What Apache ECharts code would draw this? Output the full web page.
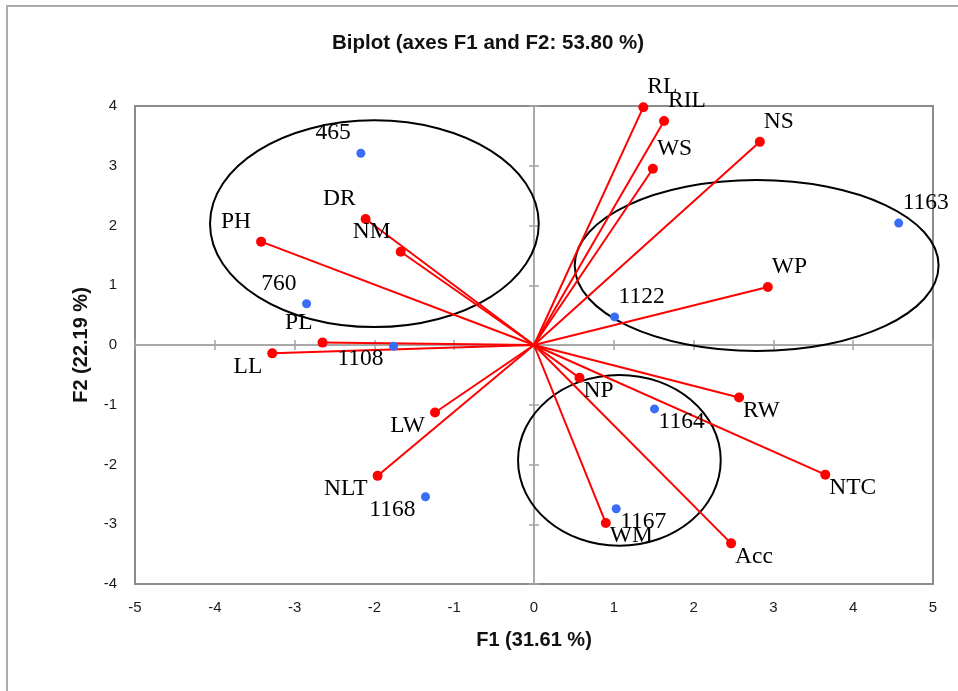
<!DOCTYPE html>
<html>
<head>
<meta charset="utf-8">
<script src="https://cdn.jsdelivr.net/npm/echarts@6/dist/echarts.min.js"></script>
<style>
  html, body { margin: 0; padding: 0; background: #fff; }
  #chart { width: 958px; height: 691px; }
</style>
</head>
<body>
<div id="chart"></div>
<script>
// Variables (arrows from the origin): F1 / F2 coordinates
const varNames = ['RL', 'RIL', 'WS', 'NS', 'WP', 'PH', 'DR', 'NM', 'PL', 'LL', 'LW', 'NLT', 'NP', 'RW', 'NTC', 'WM', 'Acc'];
const varF1 = [1.37, 1.63, 1.49, 2.83, 2.93, -3.42, -2.11, -1.67, -2.65, -3.28, -1.24, -1.96, 0.57, 2.57, 3.65, 0.90, 2.47];
const varF2 = [3.98, 3.75, 2.95, 3.40, 0.97, 1.73, 2.11, 1.56, 0.04, -0.14, -1.13, -2.19, -0.55, -0.88, -2.17, -2.98, -3.32];

// Observations (genotypes)
const obsNames = ['465', '760', '1108', '1168', '1122', '1163', '1164', '1167'];
const obsF1 = [-2.17, -2.85, -1.76, -1.36, 1.01, 4.57, 1.51, 1.03];
const obsF2 = [3.21, 0.69, -0.02, -2.54, 0.47, 2.04, -1.07, -2.74];

// Group ellipses: centre (F1, F2) and semi-axes in axis units
const ellCx = [-2.00, 2.79, 1.07];
const ellCy = [2.03, 1.33, -1.93];
const ellRx = [2.06, 2.28, 1.27];
const ellRy = [1.73, 1.43, 1.43];

// Axis ranges
const xRange = [-5, 5];
const yRange = [-4, 4];

const axisGray = '#a3a3a3';
const boxGray = '#8c8c8c';
const serif = '"Liberation Serif", "Times New Roman", serif';
const sans = '"Liberation Sans", Arial, sans-serif';

// Labels sit in the quadrant the point lies in (above/below, left/right)
function quadLabel(x, y, size) {
  const right = x >= 0;
  const up = y >= 0;
  return {
    show: true,
    position: [size / 2 + (right ? 4 : -10), size / 2 + (up ? -20 : 13)],
    align: right ? 'left' : 'right',
    verticalAlign: 'middle',
    fontFamily: serif,
    fontSize: 23.5,
    color: '#000',
    opacity: 1
  };
}

const varSize = 10;
const obsSize = 9;

const varPoints = varNames.map((n, i) => ({
  name: n,
  value: [varF1[i], varF2[i]],
  label: Object.assign(quadLabel(varF1[i], varF2[i], varSize), { formatter: n })
}));
const obsPoints = obsNames.map((n, i) => ({
  name: n,
  value: [obsF1[i], obsF2[i]],
  label: Object.assign(quadLabel(obsF1[i], obsF2[i], obsSize), { formatter: n })
}));
const arrows = varNames.map((n, i) => ({ coords: [[0, 0], [varF1[i], varF2[i]]] }));
const ellipses = ellCx.map((c, i) => [c, ellCy[i], ellRx[i], ellRy[i]]);

function valueAxis(range, extra) {
  return Object.assign({
    type: 'value',
    min: range[0],
    max: range[1],
    interval: 1,
    splitLine: { show: false }
  }, extra);
}

// Zero lines carry "cross" ticks: one axis with inner ticks, one with outer ticks
function zeroAxis(range, inside) {
  return valueAxis(range, {
    axisLine: { show: true, onZero: true, onZeroAxisIndex: 0, lineStyle: { color: axisGray, width: 1.5 } },
    axisTick: { show: true, inside: inside, length: 5, lineStyle: { color: axisGray, width: 1.5 } },
    axisLabel: { show: false }
  });
}

const chart = echarts.init(document.getElementById('chart'), null, { renderer: 'canvas' });

chart.setOption({
  animation: false,
  backgroundColor: '#fff',
  title: {
    text: 'Biplot (axes F1 and F2: 53.80 %)',
    left: 483,
    top: 28,
    textAlign: 'center',
    textStyle: { fontFamily: sans, fontWeight: 'bold', fontSize: 20.5, color: '#111' }
  },
  graphic: [{
    type: 'polyline',
    shape: { points: [[7, 691], [7, 6], [958, 6]] },
    style: { stroke: '#ababab', lineWidth: 2, fill: null },
    silent: true
  }],
  grid: {
    left: 135, top: 106, right: 25, bottom: 107,
    show: true, borderColor: boxGray, borderWidth: 2, backgroundColor: 'transparent'
  },
  xAxis: [
    valueAxis(xRange, {
      position: 'bottom',
      axisLine: { show: false, onZero: false },
      axisTick: { show: false },
      axisLabel: { fontSize: 15, color: '#1a1a1a', margin: 16, fontFamily: sans },
      name: 'F1 (31.61 %)',
      nameLocation: 'middle',
      nameGap: 46,
      nameTextStyle: { fontFamily: sans, fontWeight: 'bold', fontSize: 20, color: '#111' }
    }),
    zeroAxis(xRange, true),
    zeroAxis(xRange, false)
  ],
  yAxis: [
    valueAxis(yRange, {
      position: 'left',
      axisLine: { show: false, onZero: false },
      axisTick: { show: false },
      axisLabel: { fontSize: 15, color: '#1a1a1a', margin: 18, fontFamily: sans },
      name: 'F2 (22.19 %)',
      nameLocation: 'middle',
      nameGap: 44,
      nameTextStyle: { fontFamily: sans, fontWeight: 'bold', fontSize: 20, color: '#111' }
    }),
    zeroAxis(yRange, true),
    zeroAxis(yRange, false)
  ],
  series: [
    {
      type: 'custom',
      xAxisIndex: 0, yAxisIndex: 0,
      silent: true,
      z: 1,
      clip: false,
      data: ellipses,
      renderItem: function (params, api) {
        const c = api.coord([api.value(0), api.value(1)]);
        const s = api.size([api.value(2), api.value(3)]);
        return {
          type: 'ellipse',
          shape: { cx: c[0], cy: c[1], rx: s[0], ry: s[1] },
          style: { fill: null, stroke: '#000', lineWidth: 2 }
        };
      }
    },
    {
      type: 'lines',
      coordinateSystem: 'cartesian2d',
      xAxisIndex: 0, yAxisIndex: 0,
      silent: true,
      z: 2,
      data: arrows,
      lineStyle: { color: '#ff0000', width: 2, opacity: 1, curveness: 0 }
    },
    {
      type: 'scatter',
      xAxisIndex: 0, yAxisIndex: 0,
      z: 3,
      symbol: 'circle',
      symbolSize: varSize,
      itemStyle: { color: '#ff0000', opacity: 1 },
      data: varPoints
    },
    {
      type: 'scatter',
      xAxisIndex: 0, yAxisIndex: 0,
      z: 4,
      symbol: 'circle',
      symbolSize: obsSize,
      itemStyle: { color: '#3b6cf5', opacity: 1 },
      data: obsPoints
    }
  ]
});
</script>
</body>
</html>
